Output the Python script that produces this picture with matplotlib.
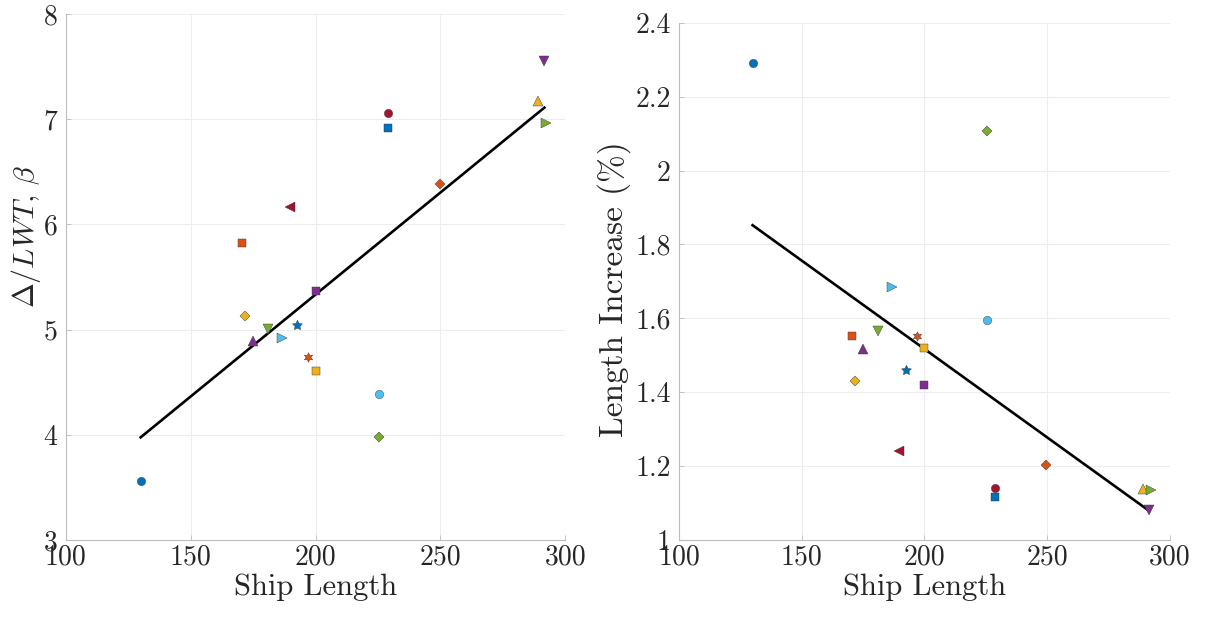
import matplotlib
matplotlib.use("Agg")
import matplotlib.pyplot as plt
from matplotlib.ticker import FuncFormatter

plt.rcParams['font.family'] = ['cmr10', 'DejaVu Serif']
plt.rcParams['mathtext.fontset'] = 'cm'
plt.rcParams['axes.formatter.use_mathtext'] = True

# Data (one entry per ship)
ship_length = [130.0, 170.6, 171.9, 174.9, 181.1, 186.7, 189.7, 192.4, 197.0, 200.0,
               200.0, 225.5, 225.5, 228.9, 229.0, 249.7, 289.0, 291.5, 292.3]
beta = [3.56, 5.82, 5.13, 4.89, 5.01, 4.92, 6.17, 5.04, 4.74, 4.61,
        5.37, 3.98, 4.39, 7.06, 6.92, 6.38, 7.17, 7.55, 6.96]
length_increase = [2.292, 1.552, 1.431, 1.517, 1.566, 1.684, 1.242, 1.460, 1.552, 1.521,
                   1.419, 2.107, 1.595, 1.140, 1.117, 1.204, 1.138, 1.081, 1.136]
colors = ['#0072BD', '#D95319', '#EDB120', '#7E2F8E', '#77AC30', '#4DBEEE', '#A2142F',
          '#0072BD', '#D95319', '#EDB120', '#7E2F8E', '#77AC30', '#4DBEEE', '#A2142F',
          '#0072BD', '#D95319', '#EDB120', '#7E2F8E', '#77AC30']
markers = ['o', 's', 'D', '^', 'v', '>', '<', 'p5', 'h6', 's',
           's', 'D', 'o', 'o', 's', 'D', '^', 'v', '>']

# Trend line endpoints
trend_x = [130.0, 291.6]
trend_beta = [3.976, 7.11]
trend_increase = [1.852, 1.079]

xticks = [100, 150, 200, 250, 300]
yticks_left = [3, 4, 5, 6, 7, 8]
yticks_right = [1.0, 1.2, 1.4, 1.6, 1.8, 2.0, 2.2, 2.4]

fig = plt.figure(figsize=(12.06, 6.19), dpi=100)
ax1 = fig.add_axes([0.0545, 0.1276, 0.4143, 0.8498])
ax2 = fig.add_axes([0.563, 0.1276, 0.4069, 0.8357])

msize = {'o': 6, 's': 5.2, 'D': 5.2, '^': 6.5, 'v': 6.5, '>': 6.5, '<': 6.5,
         'p5': 7.5, 'h6': 7.0}
mshape = {'p5': (5, 1, 0), 'h6': (6, 1, 0)}


def style(ax, yticks, ylim, ylabel, ylsize, ylx, yly):
    ax.set_xlim(100, 300)
    ax.set_ylim(*ylim)
    ax.set_xticks(xticks)
    ax.set_yticks(yticks)
    ax.xaxis.set_major_formatter(FuncFormatter(lambda v, p: '%g' % v))
    ax.yaxis.set_major_formatter(FuncFormatter(lambda v, p: '%g' % v))
    ax.grid(True, color='#ededed', linewidth=0.8)
    ax.set_axisbelow(True)
    for s in ['top', 'right']:
        ax.spines[s].set_visible(False)
    for s in ['left', 'bottom']:
        ax.spines[s].set_color('#bdbdbd')
        ax.spines[s].set_linewidth(0.8)
    ax.tick_params(direction='in', length=3.5, width=0.6, color='#bdbdbd',
                   labelsize=20, labelcolor='#262626')
    ax.tick_params(axis='x', pad=3)
    ax.tick_params(axis='y', pad=6)
    ax.set_xlabel('Ship Length', fontsize=22, color='#262626', labelpad=2)
    ax.set_ylabel(ylabel, fontsize=ylsize, color='#262626')
    ax.yaxis.set_label_coords(ylx, yly)


for ax, yvals, tr in [(ax1, beta, trend_beta), (ax2, length_increase, trend_increase)]:
    ax.plot(trend_x, tr, color='black', linewidth=1.9, zorder=2)
    for x, y, c, m in zip(ship_length, yvals, colors, markers):
        ax.plot(x, y, linestyle='none', marker=mshape.get(m, m), markersize=msize[m],
                markerfacecolor=c, markeredgecolor='#333333', markeredgewidth=0.3,
                zorder=3)

style(ax1, yticks_left, (3, 8), r'$\Delta/LWT,\,\beta$', 21.5, -0.046, 0.577)
style(ax2, yticks_right, (1, 2.4), 'Length Increase (%)', 24, -0.097, 0.485)

fig.savefig('out.png', dpi=100)
